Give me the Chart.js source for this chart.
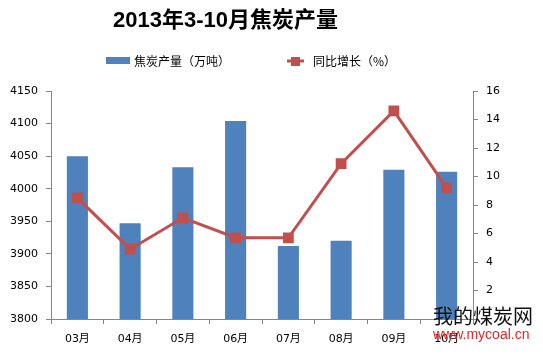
<!DOCTYPE html>
<html>
<head>
<meta charset="utf-8">
<script src="https://cdn.jsdelivr.net/npm/chart.js@4.4.0/dist/chart.umd.min.js"></script>
<style>
  html, body { margin: 0; padding: 0; background: #fff; }
  #wrap { width: 543px; height: 355px; }
</style>
</head>
<body>
<div id="wrap"><canvas id="coke-chart" width="543" height="355"></canvas></div>
<script>
// 數據
var months = ['03月', '04月', '05月', '06月', '07月', '08月', '09月', '10月'];
var output = [4050, 3947, 4033, 4104, 3912, 3920, 4029, 4026];   // 焦炭产量（万吨）
var growth = [8.5, 4.9, 7.1, 5.7, 5.7, 10.9, 14.6, 9.2];          // 同比增长（%）
var leftTicks = [3800, 4150, 50];
var rightTicks = [0, 16, 2];

var titleText = '2013年3-10月焦炭产量';
var barLabel = '焦炭产量（万吨）';
var lineLabel = '同比增长（%）';

var barColor = '#4F81BD';
var lineColor = '#C0504D';
var axisColor = '#868686';

// 標題、圖例和水印
var decorPlugin = {
    id: 'decor',
    afterDraw: function(chart) {
        var ctx = chart.ctx;
        ctx.save();
        ctx.fillStyle = '#000';
        ctx.textBaseline = 'middle';
        ctx.font = 'bold 22px "Liberation Sans", "Noto Sans CJK SC", sans-serif';
        ctx.textAlign = 'left';
        ctx.fillText(titleText, 113, 21);

        // 圖例
        ctx.font = '12px "Noto Sans CJK SC", sans-serif';
        ctx.fillStyle = barColor;
        ctx.fillRect(106, 57, 24, 7);
        ctx.fillStyle = '#000';
        ctx.fillText(barLabel, 134, 61);

        ctx.strokeStyle = lineColor;
        ctx.lineWidth = 3;
        ctx.beginPath();
        ctx.moveTo(287, 61);
        ctx.lineTo(304, 61);
        ctx.stroke();
        ctx.fillStyle = lineColor;
        ctx.fillRect(291, 57, 9, 9);
        ctx.fillStyle = '#000';
        ctx.fillText(lineLabel, 313, 61);

        // 水印
        ctx.font = '20px "Noto Sans CJK SC", sans-serif';
        ctx.fillStyle = '#111';
        ctx.fillText('我的煤炭网', 433, 316);
        ctx.font = '14px "Liberation Sans", Arial, sans-serif';
        ctx.fillStyle = '#E0282A';
        ctx.fillText('www.mycoal.cn', 433, 335);
        ctx.restore();
    }
};

var ctx = document.getElementById('coke-chart').getContext('2d');
var cokeChart = new Chart(ctx, {
    data: {
        labels: months,
        datasets: [
            {
                type: 'line',
                label: lineLabel,
                data: growth,
                yAxisID: 'y1',
                borderColor: lineColor,
                backgroundColor: lineColor,
                borderWidth: 3,
                pointStyle: 'rect',
                pointRadius: 5.5,
                pointHoverRadius: 5.5,
                tension: 0,
                order: 0
            },
            {
                type: 'bar',
                label: barLabel,
                data: output,
                yAxisID: 'y',
                backgroundColor: barColor,
                barPercentage: 0.4,
                categoryPercentage: 1,
                order: 1
            }
        ]
    },
    options: {
        responsive: false,
        animation: false,
        layout: { padding: { top: 91, left: 0, right: 0, bottom: 0 } },
        plugins: {
            legend: { display: false },
            title: { display: false },
            tooltip: { enabled: false }
        },
        scales: {
            x: {
                offset: true,
                grid: { display: true, offset: true, drawOnChartArea: false, color: axisColor, tickLength: 5 },
                border: { color: axisColor },
                ticks: { color: '#000', font: { family: '"DejaVu Sans", "Noto Sans CJK SC"', size: 11 }, padding: 9 },
                afterFit: function(axis) { axis.height = 36; }
            },
            y: {
                position: 'left',
                min: leftTicks[0],
                max: leftTicks[1],
                grid: { drawOnChartArea: false, color: axisColor, tickLength: 5 },
                border: { color: axisColor },
                ticks: {
                    stepSize: leftTicks[2],
                    color: '#000',
                    font: { family: '"DejaVu Sans"', size: 11 },
                    padding: 8,
                    callback: function(v) { return String(v); }
                },
                afterFit: function(axis) { axis.width = 51; }
            },
            y1: {
                position: 'right',
                min: rightTicks[0],
                max: rightTicks[1],
                grid: { drawOnChartArea: false, color: axisColor, tickLength: 5 },
                border: { color: axisColor },
                ticks: {
                    stepSize: rightTicks[2],
                    color: '#000',
                    font: { family: '"DejaVu Sans"', size: 11 },
                    padding: 8,
                    callback: function(v) { return v === 0 ? '' : String(v); }
                },
                afterFit: function(axis) { axis.width = 70; }
            }
        }
    },
    plugins: [decorPlugin]
});
</script>
</body>
</html>
